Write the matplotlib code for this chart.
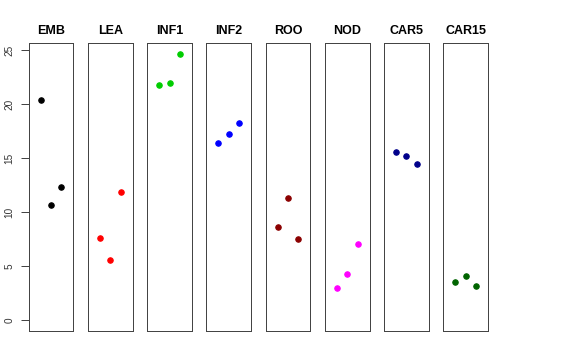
import matplotlib
matplotlib.use("Agg")
import matplotlib.pyplot as plt

tissues = ["EMB", "LEA", "INF1", "INF2", "ROO", "NOD", "CAR5", "CAR15"]
colors = ["#000000", "#FF0000", "#00CD00", "#0000FF", "#8B0000", "#FF00FF", "#00008B", "#006400"]
reps = [1, 2, 3]
values = {
    "EMB":   [20.4, 10.7, 12.35],
    "LEA":   [7.6, 5.6, 11.85],
    "INF1":  [21.8, 21.95, 24.7],
    "INF2":  [16.4, 17.3, 18.3],
    "ROO":   [8.6, 11.3, 7.5],
    "NOD":   [3.0, 4.3, 7.05],
    "CAR5":  [15.6, 15.2, 14.45],
    "CAR15": [3.55, 4.1, 3.2],
}
yticks = [0, 5, 10, 15, 20, 25]

plt.rcParams['font.family'] = ['Liberation Sans', 'DejaVu Sans']
W, H = 576, 360
fig = plt.figure(figsize=(W / 72, H / 72), dpi=72)

left0 = 28.7
step = 59.23
pw = 44.7
top, bottom = 43, 331

ymin, ymax = 0, 24.7
ext = 0.04 * (ymax - ymin)

for i, (t, c) in enumerate(zip(tissues, colors)):
    ax = fig.add_axes([(left0 + i * step) / W, (H - bottom) / H, pw / W, (bottom - top) / H])
    ax.plot(reps, values[t], 'o', color=c, ms=5.5, mec=c)
    ax.set_xlim(0 - 0.16, 4 + 0.16)
    ax.set_ylim(ymin - ext, ymax + ext)
    ax.set_xticks([])
    for s in ax.spines.values():
        s.set_color('#444444')
        s.set_linewidth(1.0)
    ax.set_title(t, fontsize=12.5, fontweight='bold', pad=8.5)
    if i == 0:
        ax.set_yticks(yticks)
        ax.set_yticklabels([str(v) for v in yticks], rotation=90, va='center', fontsize=10)
        ax.tick_params(axis='y', length=8, width=1, color='#444444', pad=6, labelcolor='#333333')
    else:
        ax.set_yticks([])

fig.savefig("out.png", dpi=72)
